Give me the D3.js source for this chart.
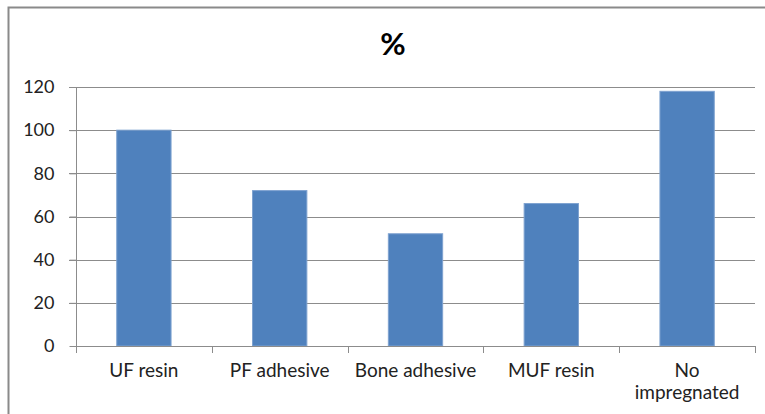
<!DOCTYPE html>
<html><head><meta charset="utf-8">
<script src="https://cdn.jsdelivr.net/npm/d3@7"></script>
<style>body{margin:0;background:#fff}svg{display:block}</style>
</head><body><svg id="c" width="765" height="414"></svg>
<script>
const categories = ["UF resin","PF adhesive","Bone adhesive","MUF resin","No impregnated"];
const values = [100, 72, 52, 66, 118];
const yTicks = [0,20,40,60,80,100,120];
const title = "%";

const svg = d3.select("#c");
const font = "Lato, 'Open Sans', sans-serif";
// outer frame
svg.append("path").attr("d","M8.5,420V7.5H780").attr("fill","none").attr("stroke","#8a8a8a").attr("stroke-width",2);

const m = {l:76, r:755, t:87, b:346};
const x = d3.scaleBand().domain(categories).range([m.l,m.r]).paddingInner(0.6).paddingOuter(0.3);
const xb = d3.scaleBand().domain(categories).range([m.l,m.r]);
const y = d3.scaleLinear().domain([0,120]).range([m.b,m.t]);

// gridlines
svg.append("g").selectAll("line").data(yTicks.filter(d=>d>0)).join("line")
  .attr("x1",m.l-7).attr("x2",m.r).attr("y1",d=>Math.round(y(d))+0.5).attr("y2",d=>Math.round(y(d))+0.5)
  .attr("stroke","#8c8c8c").attr("stroke-width",1);

// y axis
const ya = svg.append("g").attr("transform",`translate(${m.l+0.5},0)`)
  .call(d3.axisLeft(y).tickValues(yTicks).tickSize(7).tickPadding(15));
ya.select(".domain").attr("stroke","#8c8c8c").attr("d",`M0,${m.t}V${m.b+0.5}`);
ya.selectAll(".tick line").attr("stroke","#8c8c8c");
ya.selectAll("text").attr("font-family",font).attr("font-size",18).attr("fill","#222");

// bars
svg.append("g").selectAll("rect").data(categories).join("rect")
  .attr("x",d=>x(d)).attr("width",x.bandwidth())
  .attr("y",(d,i)=>y(values[i])).attr("height",(d,i)=>y(0)-y(values[i]))
  .attr("fill","#4f81bd").attr("stroke","#7ea2d0").attr("stroke-width",1);

// x axis
svg.append("line").attr("x1",m.l).attr("x2",m.r).attr("y1",m.b+0.5).attr("y2",m.b+0.5).attr("stroke","#8c8c8c");
const bounds = categories.map(c=>xb(c)).concat([m.r]);
svg.append("g").selectAll("line").data(bounds).join("line")
  .attr("x1",d=>Math.round(d)+0.5).attr("x2",d=>Math.round(d)+0.5).attr("y1",m.b).attr("y2",m.b+7).attr("stroke","#8c8c8c");
const lab = svg.append("g").selectAll("text").data(categories).join("text")
  .attr("font-family",font).attr("font-size",19).attr("fill","#222").attr("text-anchor","middle")
  .attr("x",d=>xb(d)+xb.bandwidth()/2).attr("y",377);
lab.each(function(d){
  const t = d3.select(this);
  const words = d==="No impregnated" ? ["No","impregnated"] : [d];
  words.forEach((w,i)=>t.append("tspan").attr("x",xb(d)+xb.bandwidth()/2).attr("dy",i?22:0).text(w));
});

svg.append("text").attr("x",393).attr("y",55).attr("text-anchor","middle")
  .attr("font-family",font).attr("font-weight","bold").attr("font-size",31).attr("fill","#000").text(title);
</script></body></html>
